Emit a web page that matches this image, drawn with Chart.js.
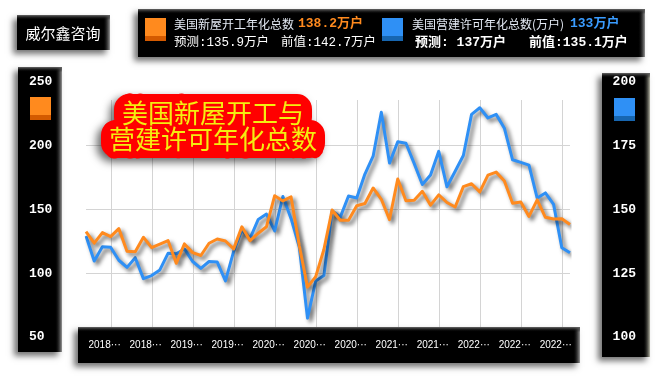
<!DOCTYPE html>
<html><head><meta charset="utf-8">
<script src="https://cdn.jsdelivr.net/npm/chart.js@4"></script>
<style>html,body{margin:0;padding:0;background:#fff;}canvas{display:block;}</style>
</head><body>
<canvas id="c" width="666" height="380"></canvas>
<script>
// Release months (data month + 1)
const releaseMonths = [
 '2018-02','2018-03','2018-04','2018-05','2018-06','2018-07','2018-08','2018-09','2018-10','2018-11','2018-12','2019-01',
 '2019-02','2019-03','2019-04','2019-05','2019-06','2019-07','2019-08','2019-09','2019-10','2019-11','2019-12','2020-01',
 '2020-02','2020-03','2020-04','2020-05','2020-06','2020-07','2020-08','2020-09','2020-10','2020-11','2020-12','2021-01',
 '2021-02','2021-03','2021-04','2021-05','2021-06','2021-07','2021-08','2021-09','2021-10','2021-11','2021-12','2022-01',
 '2022-02','2022-03','2022-04','2022-05','2022-06','2022-07','2022-08','2022-09','2022-10','2022-11','2022-12','2023-01'
];
// 美国新屋开工年化总数 (万户)
const housingStarts = [
 132.6,123.6,131.9,128.7,135.0,117.3,116.8,128.2,120.1,122.8,125.6,107.8,
 123.0,116.2,113.9,123.5,126.9,125.3,119.1,136.4,125.6,131.4,136.5,160.8,
 156.7,159.9,121.6,89.1,97.4,118.6,149.6,141.6,141.5,153.0,154.7,166.9,
 158.0,142.1,173.9,156.9,157.2,164.3,153.4,161.5,155.5,152.0,167.9,170.2,
 163.8,176.9,179.3,172.4,154.9,155.9,144.6,157.5,143.9,142.5,142.7,138.2
];
// 美国营建许可年化总数 (万户)
const buildingPermits = [
 139.6,129.8,135.4,135.2,130.1,127.3,131.1,122.9,124.1,126.3,132.8,132.6,
 134.5,129.6,126.9,129.6,129.4,122.0,133.6,141.9,138.7,146.1,148.2,141.6,
 155.1,146.4,135.3,107.4,122.0,124.1,149.5,147.0,155.3,154.5,163.9,170.9,
 188.1,168.2,176.6,176.0,168.1,159.8,163.5,172.8,158.9,165.0,171.2,187.3,
 189.9,185.9,187.3,181.9,169.5,168.5,167.4,154.5,156.5,152.0,135.0,133.0
];
const leftTickValues = [50,100,150,200,250];
const rightTickValues = [100,125,150,175,200];
const brandText = '威尔鑫咨询';
const titleLines = ['美国新屋开工与','营建许可年化总数'];
const startsName = '美国新屋开工年化总数';
const permitsName = '美国营建许可年化总数(万户)';
const startsStats = [138.2, 135.9, 142.7];   // 今值, 预测, 前值
const permitsStats = [133, 137, 135.1];

const ORANGE = '#ff8a1e', ORANGE_DK = '#d45a00';
const BLUE = '#2f90f5', BLUE_DK = '#1766b0';
const CJK = '"Noto Sans CJK SC"';
const MONO = '"Liberation Mono", "Noto Sans CJK SC"';

function bevelBox(ctx, x, y, w, h, edge) {
  ctx.save();
  ctx.shadowColor = 'rgba(0,0,0,0.55)';
  ctx.shadowBlur = 6; ctx.shadowOffsetX = -4; ctx.shadowOffsetY = 4;
  ctx.fillStyle = '#000'; ctx.fillRect(x, y, w, h);
  ctx.restore();
  const g = ctx.createLinearGradient(x + w - 7, 0, x + w, 0);
  g.addColorStop(0, 'rgba(0,0,0,0)'); g.addColorStop(1, edge || '#9a9a9a');
  ctx.fillStyle = g; ctx.fillRect(x + w - 7, y, 7, h);
  const g2 = ctx.createLinearGradient(0, y, 0, y + 5);
  g2.addColorStop(0, '#6a6a6a'); g2.addColorStop(1, 'rgba(0,0,0,0)');
  ctx.fillStyle = g2; ctx.fillRect(x, y, w, 5);
}
function square(ctx, x, y, c, dk) {
  ctx.fillStyle = c; ctx.fillRect(x, y, 21, 23);
  ctx.fillStyle = dk; ctx.fillRect(x, y + 18, 21, 5);
}

const decor = {
  id: 'decor',
  beforeDraw(chart) {
    const ctx = chart.ctx, xs = chart.scales.x;
    ctx.save();
    // vertical grid lines at labelled ticks
    ctx.strokeStyle = '#d4d4d4'; ctx.lineWidth = 1;
    for (let i = 0; i < releaseMonths.length; i++) {
      if (i % 5 !== 3) continue;
      const px = Math.round(xs.getPixelForTick(i)) + 0.5;
      ctx.beginPath(); ctx.moveTo(px, 100); ctx.lineTo(px, 330); ctx.stroke();
    }
    // boxes
    bevelBox(ctx, 17, 15, 93, 35);
    bevelBox(ctx, 138, 9, 507, 48);
    bevelBox(ctx, 18, 67, 44, 285);
    bevelBox(ctx, 602, 73, 48, 284, '#b8b8a8');
    bevelBox(ctx, 78, 327, 502, 36);
    // brand
    ctx.fillStyle = '#fff'; ctx.font = '15px ' + CJK;
    ctx.textAlign = 'center'; ctx.textBaseline = 'middle';
    ctx.fillText(brandText, 63, 33);
    // squares
    square(ctx, 145, 18, ORANGE, ORANGE_DK);
    square(ctx, 382, 18, BLUE, BLUE_DK);
    square(ctx, 30, 97, ORANGE, ORANGE_DK);
    square(ctx, 614, 98, BLUE, BLUE_DK);
    // legend texts
    ctx.textAlign = 'left';
    ctx.fillStyle = '#e4eaf4'; ctx.font = '12px ' + CJK;
    ctx.fillText(startsName, 174, 24);
    ctx.fillText(permitsName, 412, 24);
    ctx.font = 'bold 13px ' + MONO;
    ctx.fillStyle = ORANGE; ctx.fillText(startsStats[0] + '万户', 298, 24);
    ctx.fillStyle = '#3a9cff'; ctx.fillText(permitsStats[0] + '万户', 570, 24);
    ctx.fillStyle = '#fff';
    ctx.font = '12.5px ' + MONO;
    ctx.fillText('预测:' + startsStats[1] + '万户', 174, 43);
    ctx.fillText('前值:' + startsStats[2] + '万户', 281, 43);
    ctx.font = 'bold 13px ' + MONO;
    ctx.fillText('预测: ' + permitsStats[1] + '万户', 415, 43);
    ctx.fillText('前值:' + permitsStats[2] + '万户', 529, 43);
    ctx.restore();
  },
  beforeDatasetsDraw(chart) {
    const ctx = chart.ctx;
    ctx.save();
    ctx.font = '26px ' + CJK;
    ctx.textAlign = 'center'; ctx.textBaseline = 'middle';
    const cx = 213, ys = [113, 139];
    ctx.beginPath();
    titleLines.forEach((t, k) => {
      const w = ctx.measureText(t).width;
      ctx.roundRect(cx - w / 2 - 8, ys[k] - 19, w + 16, 38, 15);
    });
    ctx.shadowColor = 'rgba(0,0,0,0.6)';
    ctx.shadowBlur = 8; ctx.shadowOffsetX = -4; ctx.shadowOffsetY = 4;
    ctx.fillStyle = '#ff0000'; ctx.fill();
    ctx.shadowColor = 'rgba(0,0,0,0)';
    ctx.strokeStyle = '#ff0000'; ctx.lineWidth = 14; ctx.lineJoin = 'round';
    titleLines.forEach((t, k) => ctx.strokeText(t, cx, ys[k]));
    ctx.fillStyle = '#f4ee10';
    titleLines.forEach((t, k) => ctx.fillText(t, cx, ys[k]));
    ctx.restore();
  },
  beforeDatasetDraw(chart) {
    const c = chart.ctx; c.save();
    c.shadowColor = 'rgba(0,0,0,0.6)'; c.shadowBlur = 4; c.shadowOffsetX = 3; c.shadowOffsetY = 3;
  },
  afterDatasetDraw(chart) { chart.ctx.restore(); }
};

new Chart(document.getElementById('c'), {
  type: 'line',
  data: {
    labels: releaseMonths,
    datasets: [
      { label: startsName, data: housingStarts, yAxisID: 'y', borderColor: ORANGE, borderWidth: 3,
        pointRadius: 0, tension: 0, borderJoinStyle: 'round' },
      { label: permitsName, data: buildingPermits, yAxisID: 'y1', borderColor: BLUE, borderWidth: 3,
        pointRadius: 0, tension: 0, borderJoinStyle: 'round' }
    ]
  },
  options: {
    responsive: false, animation: false, devicePixelRatio: 1,
    layout: { padding: { left: 29, top: 82, right: 30, bottom: 0 } },
    plugins: { legend: { display: false }, tooltip: { enabled: false } },
    scales: {
      x: {
        type: 'category', offset: false,
        grid: { display: false, drawTicks: false }, border: { display: false },
        ticks: {
          autoSkip: false, maxRotation: 0, minRotation: 0, padding: 2, labelOffset: -6,
          color: '#fff', font: { family: 'Liberation Sans', size: 10 },
          callback: (v, i) => (i % 5 === 3 ? releaseMonths[i].slice(0, 4) + '···' : '')
        },
        afterFit: s => { s.height = 43; }
      },
      y: {
        position: 'left', min: 50, max: 250,
        afterBuildTicks: s => { s.ticks = leftTickValues.map(v => ({ value: v })); },
        grid: { drawTicks: false, color: c => (c.tick && (c.tick.value === 50 || c.tick.value === 250)) ? 'rgba(0,0,0,0)' : '#d4d4d4' },
        border: { display: false },
        ticks: { crossAlign: 'far', padding: 0, color: '#fff', font: { family: 'Liberation Mono', size: 13, weight: 'bold' } },
        afterFit: s => { s.width = 57; }
      },
      y1: {
        position: 'right', min: 100, max: 200,
        afterBuildTicks: s => { s.ticks = rightTickValues.map(v => ({ value: v })); },
        grid: { display: false, drawTicks: false }, border: { display: false },
        ticks: { crossAlign: 'far', padding: 0, color: '#fff', font: { family: 'Liberation Mono', size: 13, weight: 'bold' } },
        afterFit: s => { s.width = 66; }
      }
    }
  },
  plugins: [decor]
});
</script>
</body></html>
